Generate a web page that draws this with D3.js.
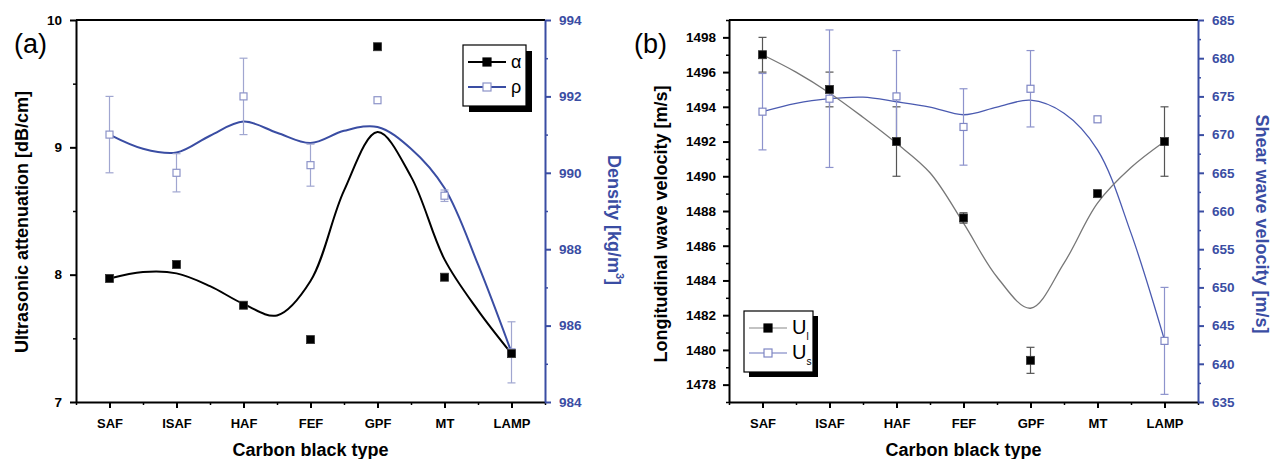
<!DOCTYPE html>
<html><head><meta charset="utf-8">
<script src="https://cdn.jsdelivr.net/npm/d3@7"></script>
<style>body{margin:0;background:#fff}svg{display:block}text{font-family:Arial,"Liberation Sans",sans-serif}</style>
</head><body><svg id="c" width="1273" height="459"></svg>
<script>
const categories = ["SAF","ISAF","HAF","FEF","GPF","MT","LAMP"];
// panel (a)
const alpha = [7.97, 8.08, 7.76, 7.49, 9.79, 7.98, 7.38];
const rho = [991.0, 990.0, 992.0, 990.2, 991.9, 989.4, 985.3];
const rhoErr = [1.0, 0.5, 1.0, 0.55, 0.05, 0.15, 0.8];
const fitPos = [0, 0.5, 1, 1.5, 2, 2.5, 3, 3.5, 4, 4.5, 5, 5.5, 6];
const alphaFit = [7.97, 8.02, 8.01, 7.91, 7.77, 7.68, 7.95, 8.66, 9.12, 8.77, 8.12, 7.72, 7.38];
const rhoFit = [991.0, 990.63, 990.53, 990.97, 991.34, 991.05, 990.78, 991.1, 991.2, 990.63, 989.6, 987.6, 985.3];
const alphaTicks = [7, 8, 9, 10];
const rhoTicks = [984, 986, 988, 990, 992, 994];
// panel (b)
const Ul = [1497.0, 1495.0, 1492.0, 1487.6, 1479.4, 1489.0, 1492.0];
const UlErr = [1.0, 1.0, 2.0, 0.3, 0.75, 0.15, 2.0];
const Us = [673.0, 674.7, 675.0, 671.0, 676.0, 672.0, 643.0];
const UsErr = [5, 9, 6, 5, 5, 0.3, 7];
const UlFit = [1497.0, 1496.0, 1494.8, 1493.4, 1491.9, 1490.2, 1487.3, 1484.2, 1482.4, 1485.0, 1488.45, 1490.5, 1492.0];
const UsFit = [673.0, 674.1, 674.7, 674.9, 674.3, 673.6, 672.6, 673.6, 674.5, 672.8, 668.0, 657.1, 643.1];
const UlTicks = [1478, 1480, 1482, 1484, 1486, 1488, 1490, 1492, 1494, 1496, 1498];
const UsTicks = [635, 640, 645, 650, 655, 660, 665, 670, 675, 680, 685];

const svg = d3.select("#c");
const BLUE = "#3a4da3";
const fmt = d3.format("d");

function panel(o) {
  const g = svg.append("g");
  const x = d3.scaleLinear().domain([-0.5, 6.5]).range([o.x0, o.x1]);
  const yL = d3.scaleLinear().domain(o.lDom).range([402, 20]);
  const yR = d3.scaleLinear().domain(o.rDom).range([402, 20]);
  const idx = d3.range(categories.length);

  g.append("line").attr("x1", o.x0).attr("x2", o.x1).attr("y1", 20).attr("y2", 20)
    .attr("stroke", "#000").attr("stroke-width", 2);

  // bottom axis
  const bx = g.append("g").attr("transform", "translate(0,402)")
    .call(d3.axisBottom(x).tickValues(idx).tickFormat(i => categories[i]).tickSize(6).tickSizeOuter(0));
  bx.select(".domain").attr("stroke-width", 2);
  bx.selectAll(".tick line").attr("stroke-width", 2);
  bx.selectAll("text").attr("font-size", 13).attr("font-weight", "bold").attr("y", 17);
  g.append("g").attr("transform", "translate(0,402)")
    .call(d3.axisBottom(x).tickValues(d3.range(-0.5, 6.6, 1)).tickFormat("").tickSize(3).tickSizeOuter(0))
    .call(s => { s.select(".domain").remove(); s.selectAll("line").attr("stroke-width", 1.5); });

  // left axis
  const la = g.append("g").attr("transform", `translate(${o.x0},0)`)
    .call(d3.axisLeft(yL).tickValues(o.lTicks).tickFormat(fmt).tickSize(6).tickSizeOuter(0));
  la.select(".domain").attr("stroke-width", 2);
  la.selectAll(".tick line").attr("stroke-width", 2);
  la.selectAll("text").attr("font-size", o.tfs).attr("font-weight", "bold").attr("x", -o.lPad);
  g.append("g").attr("transform", `translate(${o.x0},0)`)
    .call(d3.axisLeft(yL).tickValues(o.lMinor).tickFormat("").tickSize(3).tickSizeOuter(0))
    .call(s => { s.select(".domain").remove(); s.selectAll("line").attr("stroke-width", 1.5); });

  // right axis
  const ra = g.append("g").attr("transform", `translate(${o.x1},0)`)
    .call(d3.axisRight(yR).tickValues(o.rTicks).tickFormat(fmt).tickSize(6).tickSizeOuter(0));
  ra.select(".domain").attr("stroke", BLUE).attr("stroke-width", 2);
  ra.selectAll(".tick line").attr("stroke", BLUE).attr("stroke-width", 2);
  ra.selectAll("text").attr("fill", BLUE).attr("font-size", 13.5).attr("font-weight", "bold").attr("x", 14);
  g.append("g").attr("transform", `translate(${o.x1},0)`)
    .call(d3.axisRight(yR).tickValues(o.rMinor).tickFormat("").tickSize(3).tickSizeOuter(0))
    .call(s => { s.select(".domain").remove(); s.selectAll("line").attr("stroke", BLUE).attr("stroke-width", 1.5); });

  // fitted curves
  const line = (ys, vals) => d3.line().x((d, i) => x(fitPos[i])).y(d => ys(d)).curve(d3.curveCatmullRom.alpha(0.5))(vals);
  g.append("path").attr("d", line(yR, o.rFit)).attr("fill", "none").attr("stroke", o.rCurve).attr("stroke-width", o.cw);
  g.append("path").attr("d", line(yL, o.lFit)).attr("fill", "none").attr("stroke", o.lCurve).attr("stroke-width", o.cw);

  // error bars
  function ebars(ys, vals, errs, col) {
    const eg = g.append("g").attr("stroke", col).attr("stroke-width", 1.2);
    idx.forEach(i => {
      const h = Math.abs(ys(vals[i] + errs[i]) - ys(vals[i]));
      if (h < 3) return;
      const cx = x(i), t = ys(vals[i] + errs[i]), b = ys(vals[i] - errs[i]);
      eg.append("line").attr("x1", cx).attr("x2", cx).attr("y1", t).attr("y2", b);
      eg.append("line").attr("x1", cx - 4).attr("x2", cx + 4).attr("y1", t).attr("y2", t);
      eg.append("line").attr("x1", cx - 4).attr("x2", cx + 4).attr("y1", b).attr("y2", b);
    });
  }
  if (o.lErr) ebars(yL, o.lVals, o.lErr, "#555");
  ebars(yR, o.rVals, o.rErr, o.rErrCol);

  // markers
  g.selectAll(".hs").data(o.rVals).join("rect")
    .attr("x", (d, i) => x(i) - 3.5).attr("y", d => yR(d) - 3.5).attr("width", 7).attr("height", 7)
    .attr("fill", "#fff").attr("stroke", o.rMark).attr("stroke-width", 1.2);
  g.selectAll(".fs").data(o.lVals).join("rect")
    .attr("x", (d, i) => x(i) - 4).attr("y", d => yL(d) - 4).attr("width", 8).attr("height", 8)
    .attr("fill", "#000").attr("stroke", "#333").attr("stroke-width", 0.8);

  // axis titles
  g.append("text").attr("transform", `translate(${o.lTitleX},${o.lTitleY}) rotate(-90)`).attr("text-anchor", "middle")
    .attr("font-size", 18).attr("font-weight", "bold").text(o.lTitle);
  g.append("text").attr("transform", `translate(${o.rTitleX},${o.rTitleY}) rotate(90)`).attr("text-anchor", "middle")
    .attr("font-size", 18).attr("font-weight", "bold").attr("fill", BLUE).each(function () {
      const t = d3.select(this);
      t.append("tspan").text(o.rTitle[0]);
      if (o.rTitle[1]) {
        t.append("tspan").attr("font-size", 11).attr("dy", -8).text(o.rTitle[1]);
        t.append("tspan").attr("dy", 8).text(o.rTitle[2]);
      }
    });
  g.append("text").attr("x", (o.x0 + o.x1) / 2).attr("y", 456).attr("text-anchor", "middle")
    .attr("font-size", 18).attr("font-weight", "bold").text("Carbon black type");
  g.append("text").attr("x", o.tagX).attr("y", 53).attr("font-family", "'Liberation Serif','Times New Roman',serif")
    .attr("font-size", 27).text(o.tag);

  // legend
  const L = o.leg;
  g.append("rect").attr("x", L.x + L.sh).attr("y", L.y + L.sh).attr("width", L.w).attr("height", L.h).attr("fill", "#000");
  g.append("rect").attr("x", L.x).attr("y", L.y).attr("width", L.w).attr("height", L.h).attr("fill", "#fff").attr("stroke", "#000").attr("stroke-width", 1.2);
  L.items.forEach((it, k) => {
    const yy = L.y + L.first + k * L.gap;
    g.append("line").attr("x1", L.x + 5).attr("x2", L.x + 43).attr("y1", yy).attr("y2", yy).attr("stroke", it.col).attr("stroke-width", it.lw);
    g.append("rect").attr("x", L.x + 24 - 4).attr("y", yy - 4).attr("width", 8).attr("height", 8)
      .attr("fill", it.fill).attr("stroke", it.ms).attr("stroke-width", 1.2);
    const t = g.append("text").attr("x", L.x + 48).attr("y", yy + 6).attr("font-size", it.fs);
    t.append("tspan").text(it.label);
    if (it.sub) t.append("tspan").attr("font-size", 10).attr("dy", 6).text(it.sub);
  });
}

panel({
  x0: 76, x1: 545, tag: "(a)", tagX: 14, tfs: 13.5, lPad: 14,
  lDom: [7, 10], rDom: [984, 994],
  lTicks: alphaTicks, lMinor: [7.5, 8.5, 9.5],
  rTicks: rhoTicks, rMinor: [985, 987, 989, 991, 993],
  lVals: alpha, lErr: null, rVals: rho, rErr: rhoErr,
  lFit: alphaFit, rFit: rhoFit, lCurve: "#000", rCurve: BLUE, cw: 2,
  rErrCol: "#a0a6d0", rMark: "#8c93c8",
  lTitle: "Ultrasonic attenuation [dB/cm]", lTitleX: 28, lTitleY: 222,
  rTitle: ["Density [kg/m", "3", "]"], rTitleX: 608, rTitleY: 220,
  leg: { x: 463, y: 45, w: 63, h: 61, sh: 6, first: 17, gap: 25,
    items: [{ label: "α", col: "#000", lw: 2, fill: "#000", ms: "#000", fs: 18 },
            { label: "ρ", col: BLUE, lw: 2, fill: "#fff", ms: "#8c93c8", fs: 18 }] }
});

panel({
  x0: 729, x1: 1198, tag: "(b)", tagX: 634, tfs: 13.5, lPad: 13,
  lDom: [1477, 1499], rDom: [635, 685],
  lTicks: UlTicks, lMinor: d3.range(1477, 1500, 2),
  rTicks: UsTicks, rMinor: d3.range(637.5, 685, 5),
  lVals: Ul, lErr: UlErr, rVals: Us, rErr: UsErr,
  lFit: UlFit, rFit: UsFit, lCurve: "#777", rCurve: "#4a5ab0", cw: 1.3,
  rErrCol: "#8d93cc", rMark: "#7f86c4",
  lTitle: "Longitudinal wave velocity [m/s]", lTitleX: 667, lTitleY: 224,
  rTitle: ["Shear wave velocity [m/s]"], rTitleX: 1256, rTitleY: 224,
  leg: { x: 744, y: 311, w: 69, h: 61, sh: 5, first: 17, gap: 25,
    items: [{ label: "U", sub: "l", col: "#888", lw: 1.2, fill: "#000", ms: "#000", fs: 20 },
            { label: "U", sub: "s", col: "#6a74bb", lw: 1.2, fill: "#fff", ms: "#7f86c4", fs: 20 }] }
});
</script></body></html>
